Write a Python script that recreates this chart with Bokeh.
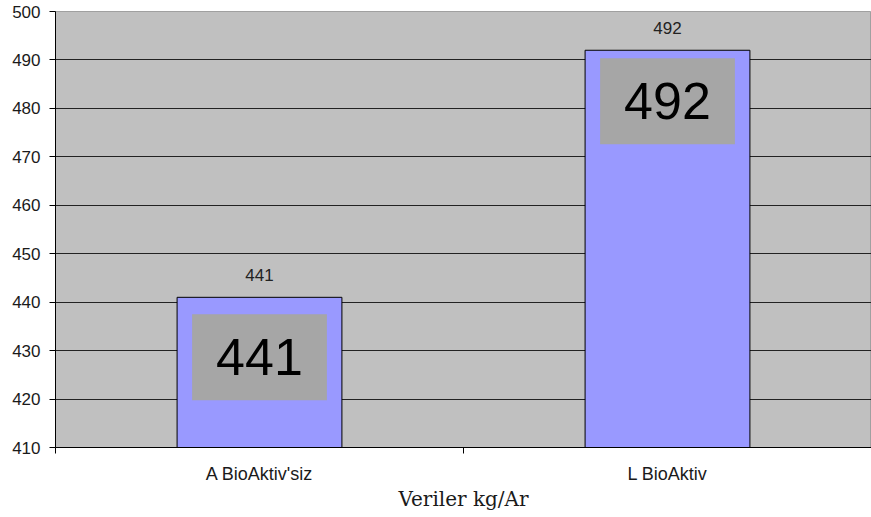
from bokeh.plotting import figure
from bokeh.models import Range1d, FixedTicker, ColumnDataSource, LabelSet, Label
from bokeh.core.properties import value
from bokeh.embed import file_html
from bokeh.resources import INLINE

categories = ["A BioAktiv'siz", "L BioAktiv"]
values = [441, 492]
y_ticks = [410, 420, 430, 440, 450, 460, 470, 480, 490, 500]
y_min, y_max = 410, 500
x_axis_title = "Veriler kg/Ar"

# style (not data)
box_offsets = [-60, -51]

n = len(categories)
centers = [i + 0.5 for i in range(n)]
bounds = [float(i) for i in range(n + 1)]

p = figure(width=871, height=517, output_backend="svg", toolbar_location=None,
           x_range=Range1d(0, n), y_range=Range1d(y_min, y_max),
           min_border_left=55, min_border_right=0, min_border_top=11,
           min_border_bottom=70)
p.background_fill_color = "#c0c0c0"
p.border_fill_color = "white"
p.outline_line_color = "#a0a0a0"

src = ColumnDataSource(dict(x=centers, top=values, text=[str(v) for v in values]))
p.vbar(x="x", top="top", bottom=y_min, width=0.404, source=src,
       fill_color="#9999ff", line_color="black", line_width=1)

# y axis
p.yaxis.ticker = FixedTicker(ticks=y_ticks)
p.yaxis.major_tick_out = 6
p.yaxis.major_tick_in = 0
p.yaxis.minor_tick_out = 0
p.yaxis.minor_tick_in = 0
p.yaxis.major_label_standoff = 9
p.yaxis.major_label_text_font = "Liberation Sans"
p.yaxis.major_label_text_font_size = "17px"
p.yaxis.major_label_text_color = "#1a1a1a"
p.yaxis.axis_line_color = "black"
p.yaxis.major_tick_line_color = "black"

# x axis
p.xaxis.ticker = FixedTicker(ticks=centers, minor_ticks=bounds)
p.xaxis.major_label_overrides = {c: lab for c, lab in zip(centers, categories)}
p.xaxis.major_tick_out = 0
p.xaxis.major_tick_in = 0
p.xaxis.minor_tick_out = 6
p.xaxis.minor_tick_in = 0
p.xaxis.minor_tick_line_color = "black"
p.xaxis.major_label_standoff = 10
p.xaxis.major_label_text_font = "Liberation Sans"
p.xaxis.major_label_text_font_size = "18px"
p.xaxis.major_label_text_color = "#1a1a1a"
p.xaxis.axis_line_color = "black"
p.xaxis.axis_label = x_axis_title
p.xaxis.axis_label_text_font = "DejaVu Serif"
p.xaxis.axis_label_text_font_style = "normal"
p.xaxis.axis_label_text_font_size = "20px"
p.xaxis.axis_label_text_color = "#1a1a1a"
p.xaxis.axis_label_standoff = 0

p.xgrid.visible = False
p.ygrid.ticker = FixedTicker(ticks=y_ticks[1:-1])
p.ygrid.grid_line_color = "#222222"
p.ygrid.grid_line_width = 1

# small value labels above bars
p.add_layout(LabelSet(x="x", y="top", text="text", source=src, y_offset=16,
                      text_align="center", text_baseline="alphabetic",
                      text_font=value("Liberation Sans"), text_font_size="17px",
                      text_color="#222222"))

# large boxed value labels inside bars
for c, v, off in zip(centers, values, box_offsets):
    p.add_layout(Label(x=c, y=v, y_offset=off, text=str(v),
                       text_align="center", text_baseline="middle",
                       text_font="Liberation Sans", text_font_size="52px",
                       text_color="black", background_fill_color="#a6a6a6",
                       padding=dict(x=24, y=25)))

open("out.html", "w").write(file_html(p, INLINE))
